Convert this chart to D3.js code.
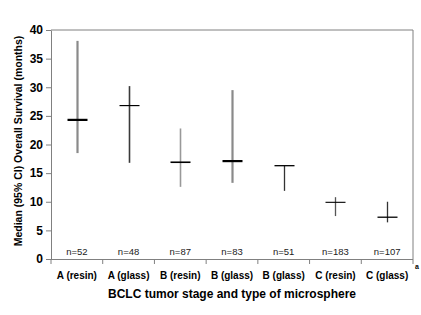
<!DOCTYPE html>
<html><head><meta charset="utf-8">
<script src="https://cdn.jsdelivr.net/npm/d3@7"></script>
<style>body{margin:0;background:#fff}svg{display:block}text{font-family:"Liberation Sans",Arial,sans-serif}</style>
</head><body>
<svg id="c" width="421" height="315"></svg>
<script>
const categories = ["A (resin)","A (glass)","B (resin)","B (glass)","B (glass)","C (resin)","C (glass)"];
const medians = [24.3, 26.8, 16.9, 17.1, 16.3, 9.9, 7.3];
const lower = [18.5, 16.8, 12.6, 13.3, 11.9, 7.5, 6.4];
const upper = [38.1, 30.2, 22.8, 29.5, 16.3, 10.8, 10.0];
const nLabels = ["n=52","n=48","n=87","n=83","n=51","n=183","n=107"];
const yTicks = [0,5,10,15,20,25,30,35,40];
const vColor = ["#8a8a8a","#3a3a3a","#999999","#8a8a8a","#333333","#555555","#333333"];
const vWidth = [2.2,1.6,1.6,2.2,1.3,1.3,1.3];
const mWidth = [2.2,1.2,1.6,2.2,1.3,1.1,1.3];

const svg = d3.select("#c");
const L=51,R=413,T=30,B=259;
const x = d3.scaleBand().domain(d3.range(categories.length)).range([L,R]);
const y = d3.scaleLinear().domain([0,40]).range([B,T]);

svg.append("path").attr("d",`M${L},${T}H${R}V${B}`).attr("fill","none").attr("stroke","#808080").attr("stroke-width",1);

const ya = svg.append("g").attr("transform",`translate(${L},0)`)
  .call(d3.axisLeft(y).tickValues(yTicks).tickSize(5).tickPadding(3).tickSizeOuter(0));
ya.select(".domain").attr("stroke","#808080");
ya.selectAll(".tick line").attr("stroke","#808080");
ya.selectAll("text").attr("font-size",12).attr("font-weight","bold").attr("fill","#000");

const xa = svg.append("g").attr("transform",`translate(0,${B})`);
xa.append("line").attr("x1",L-5).attr("x2",R).attr("y1",0.5).attr("y2",0.5).attr("stroke","#808080");
const bounds = d3.range(categories.length+1).map(i => i<categories.length ? x(i) : R);
xa.selectAll(".xt").data(bounds).join("line").attr("class","xt")
  .attr("x1",d=>d).attr("x2",d=>d).attr("y1",0).attr("y2",5).attr("stroke","#808080");
xa.selectAll(".xl").data(categories).join("text").attr("class","xl")
  .attr("x",(d,i)=>x(i)+x.bandwidth()/2).attr("y",20).attr("text-anchor","middle")
  .attr("font-size",10).attr("font-weight","bold").text(d=>d);
svg.append("text").attr("x",R+2).attr("y",B+10).attr("font-size",7).attr("font-weight","bold").text("a");

svg.selectAll(".nl").data(nLabels).join("text").attr("class","nl")
  .attr("x",(d,i)=>x(i)+x.bandwidth()/2).attr("y",B-4).attr("text-anchor","middle")
  .attr("font-size",9.5).attr("fill","#222").text(d=>d);

const g = svg.append("g");
categories.forEach((c,i)=>{
  const cx = Math.round(x(i)+x.bandwidth()/2)+0.5;
  g.append("line").attr("x1",cx).attr("x2",cx).attr("y1",y(upper[i])).attr("y2",y(lower[i]))
    .attr("stroke",vColor[i]).attr("stroke-width",vWidth[i]);
  g.append("line").attr("x1",cx-10).attr("x2",cx+10).attr("y1",y(medians[i])).attr("y2",y(medians[i]))
    .attr("stroke","#000").attr("stroke-width",mWidth[i]);
});

svg.append("text").attr("x",(L+R)/2).attr("y",298).attr("text-anchor","middle")
  .attr("font-size",12).attr("font-weight","bold").text("BCLC tumor stage and type of microsphere");
svg.append("text").attr("transform",`translate(22,141) rotate(-90)`).attr("text-anchor","middle")
  .attr("font-size",10.5).attr("font-weight","bold").text("Median (95% CI) Overall Survival (months)");
</script>
</body></html>
